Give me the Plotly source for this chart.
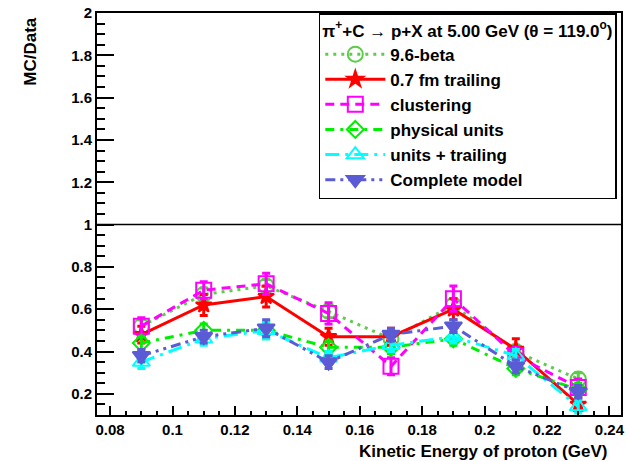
import plotly.graph_objects as go

x_vals = [0.09, 0.11, 0.13, 0.15, 0.17, 0.19, 0.21, 0.23]

beta96 = [0.52, 0.67, 0.71, 0.59, 0.46, 0.62, 0.40, 0.27]
beta96_err = [0.03, 0.03, 0.03, 0.03, 0.03, 0.03, 0.03, 0.03]
trail07 = [0.48, 0.62, 0.66, 0.47, 0.47, 0.60, 0.41, 0.15]
trail07_err = [0.04, 0.05, 0.05, 0.04, 0.04, 0.05, 0.05, 0.03]
cluster = [0.52, 0.69, 0.72, 0.58, 0.33, 0.65, 0.38, 0.23]
cluster_err = [0.04, 0.04, 0.05, 0.05, 0.04, 0.06, 0.04, 0.04]
phys = [0.44, 0.50, 0.50, 0.42, 0.42, 0.46, 0.32, 0.22]
phys_err = [0.03, 0.03, 0.04, 0.03, 0.03, 0.03, 0.03, 0.03]
units = [0.35, 0.46, 0.50, 0.37, 0.43, 0.47, 0.38, 0.14]
units_err = [0.03, 0.03, 0.04, 0.03, 0.03, 0.03, 0.03, 0.03]
complete = [0.38, 0.47, 0.51, 0.35, 0.48, 0.52, 0.33, 0.21]
complete_err = [0.03, 0.03, 0.04, 0.03, 0.03, 0.03, 0.03, 0.03]

series = [
    ("9.6-beta", beta96, beta96_err, "#5ccc4a", "3px,5px", "circle-open", 15),
    ("0.7 fm trailing", trail07, trail07_err, "#ff0000", "solid", "star", 12),
    ("clustering", cluster, cluster_err, "#ff00ff", "9px,6px", "square-open", 15),
    ("physical units", phys, phys_err, "#00ee00", "9px,6px,3px,6px", "diamond-open", 13),
    ("units + trailing", units, units_err, "#00ffff", "14px,6px,3px,6px", "triangle-up-open", 15),
    ("Complete model", complete, complete_err, "#5b5bd6", "10px,5px,3px,5px,3px,5px", "triangle-down", 15),
]

FONT = "Liberation Sans, Arial, sans-serif"

fig = go.Figure()
for name, vals, errs, color, dash, sym, msize in series:
    fig.add_trace(go.Scatter(
        x=x_vals, y=vals, name=name, mode="lines+markers",
        line=dict(color=color, width=3, dash=dash),
        marker=dict(symbol=sym, size=msize, color=color, line=dict(color=color, width=2)),
        error_y=dict(type="data", array=errs, color=color, thickness=3, width=4),
    ))

fig.add_shape(type="line", xref="paper", yref="y", x0=0, x1=1, y0=1, y1=1,
              line=dict(color="black", width=1.5))

fig.update_layout(
    width=627, height=461,
    margin=dict(l=97, r=2, t=13, b=46),
    paper_bgcolor="white", plot_bgcolor="white",
    font=dict(family=FONT, size=15, color="black", weight="bold"),
    showlegend=True,
    legend=dict(
        x=0.992, y=1.0, xanchor="right", yanchor="top",
        bgcolor="white", bordercolor="black", borderwidth=1.5,
        font=dict(family=FONT, size=17, weight="bold"),
        title=dict(text="\u03c0<sup>+</sup>+C \u2192 p+X at 5.00 GeV (\u03b8 = 119.0<sup>o</sup>)",
                   font=dict(family=FONT, size=17, weight="bold")),
        itemwidth=60, tracegroupgap=0,
    ),
    xaxis=dict(
        range=[0.0758, 0.2437], showgrid=False, zeroline=False,
        showline=True, linecolor="black", linewidth=2, mirror=True,
        ticks="inside", ticklen=9, tickwidth=1.5, tickcolor="black",
        tick0=0.08, dtick=0.02, tickformat=".2~f",
        tickfont=dict(family=FONT, size=15, weight="bold"),
        minor=dict(ticks="inside", ticklen=4, dtick=0.005, tick0=0.08, tickcolor="black", showgrid=False),
    ),
    yaxis=dict(
        range=[0.1, 2.0], showgrid=False, zeroline=False,
        showline=True, linecolor="black", linewidth=2, mirror=True,
        ticks="inside", ticklen=17, tickwidth=1.5, tickcolor="black",
        tick0=0.2, dtick=0.2, tickformat=".1~f",
        tickfont=dict(family=FONT, size=15, weight="bold"),
        minor=dict(ticks="inside", ticklen=8, dtick=0.05, tick0=0.1, tickcolor="black", showgrid=False),
    ),
    annotations=[
        dict(text="Kinetic Energy of proton (GeV)", xref="paper", yref="paper",
             x=0.977, y=-0.092, xanchor="right", yanchor="middle", showarrow=False,
             font=dict(family=FONT, size=17, weight="bold")),
        dict(text="MC/Data", xref="paper", yref="paper", textangle=-90,
             x=-0.126, y=0.997, xanchor="center", yanchor="top", showarrow=False,
             font=dict(family=FONT, size=17, weight="bold")),
    ],
)

fig.write_html("out.html")
